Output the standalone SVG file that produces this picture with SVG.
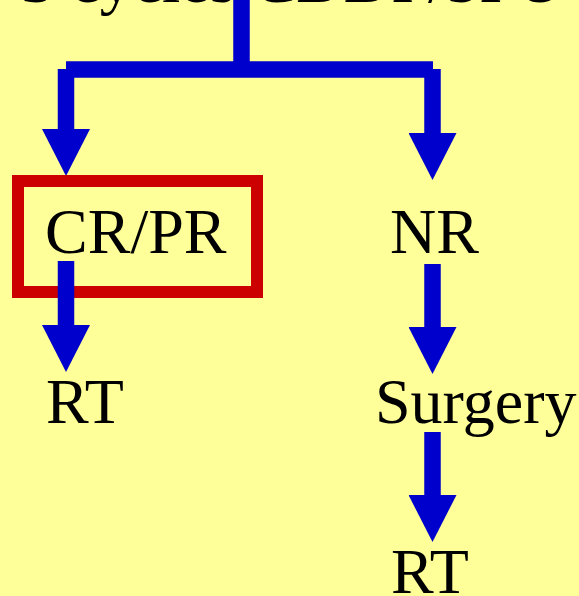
<svg xmlns="http://www.w3.org/2000/svg" width="579" height="596" viewBox="0 0 579 596">
  <style>
    .lbl { font-family: "Liberation Serif", "Times New Roman", serif; font-size: 64px; fill: #000000; }
    .top { font-family: "Liberation Serif", "Times New Roman", serif; font-size: 66px; fill: #000000; }
    .conn { stroke: #0000CC; stroke-width: 16.5; fill: none; stroke-linecap: butt; }
    .box { fill: none; stroke: #CC0000; stroke-width: 12; }
  </style>
  <defs>
    <marker id="head" viewBox="0 0 47 48" markerWidth="47" markerHeight="48" markerUnits="userSpaceOnUse" refX="0" refY="24" orient="auto">
      <path d="M0,0 L47,24 L0,48 Z" fill="#0000CC"/>
    </marker>
  </defs>
  <rect x="0" y="0" width="579" height="596" fill="#FFFF99"/>

  <g id="node-top">
    <text class="top" x="21" y="2">3 cycles CDDP/5FU</text>
  </g>

  <g id="connectors-split">
    <line class="conn" x1="241.5" y1="0" x2="241.5" y2="70"/>
    <line class="conn" x1="66" y1="69.5" x2="433" y2="69.5"/>
    <line class="conn" x1="66" y1="69" x2="66" y2="129" marker-end="url(#head)"/>
    <line class="conn" x1="432.5" y1="69" x2="432.5" y2="133" marker-end="url(#head)"/>
  </g>

  <g id="node-crpr">
    <rect class="box" x="18" y="181" width="239" height="111"/>
    <text class="lbl" x="45" y="253">CR/PR</text>
  </g>

  <g id="node-nr">
    <text class="lbl" x="390" y="253">NR</text>
  </g>

  <g id="node-rt-left">
    <text class="lbl" x="46" y="423">RT</text>
  </g>

  <g id="node-surgery">
    <text class="lbl" x="375" y="423">Surgery</text>
  </g>

  <g id="node-rt-right">
    <text class="lbl" x="391" y="593">RT</text>
  </g>

  <g id="connectors">
    <line class="conn" x1="66" y1="261" x2="66" y2="325" marker-end="url(#head)"/>
    <line class="conn" x1="432.5" y1="264" x2="432.5" y2="327" marker-end="url(#head)"/>
    <line class="conn" x1="432.5" y1="432" x2="432.5" y2="495" marker-end="url(#head)"/>
  </g>
</svg>
